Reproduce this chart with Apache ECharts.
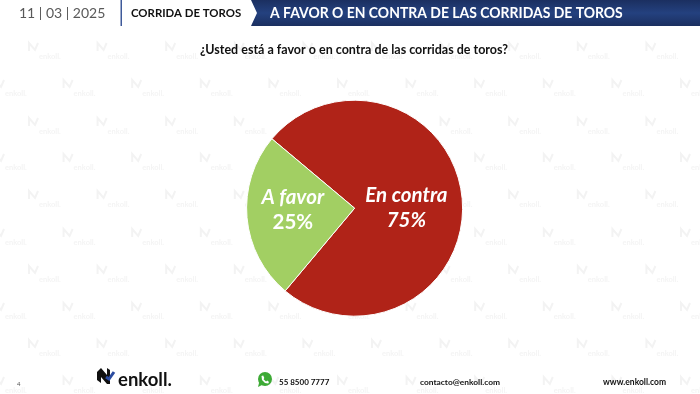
<!DOCTYPE html>
<html>
<head>
<meta charset="utf-8">
<style>
html, body { margin: 0; padding: 0; background: #fff; }
#main { width: 700px; height: 394px; }
</style>
<script src="https://cdn.jsdelivr.net/npm/echarts@6/dist/echarts.min.js"></script>
</head>
<body>
<div id="main"></div>
<script>
var categories = ['En contra', 'A favor'];
var values = [75, 25];
var sliceColors = ['#B02318', '#A2CF63'];
var dateText = '11 | 03 | 2025';
var sectionText = 'CORRIDA DE TOROS';
var bannerText = 'A FAVOR O EN CONTRA DE LAS CORRIDAS DE TOROS';
var questionText = '¿Usted está a favor o en contra de las corridas de toros?';
var pageText = '4';
var phoneText = '55 8500 7777';
var mailText = 'contacto@enkoll.com';
var webText = 'www.enkoll.com';

var FONT = 'Lato, Carlito, "Open Sans", sans-serif';
var myChart = echarts.init(document.getElementById('main'), null, { renderer: 'canvas' });

// marca de agua de fondo, filas alternadas
function watermark() {
    var items = [];
    var rows = [57, 94, 132, 168, 205, 243, 280, 317, 354, 391];
    for (var r = 0; r < rows.length; r++) {
        var startX = r % 2 === 0 ? 39 : 5;
        for (var c = -1; c < 11; c++) {
            var x = startX + c * 68.6;
            var y = rows[r];
            items.push({
                type: 'text', z: -10, silent: true,
                style: { x: x, y: y, text: 'enkoll.', fill: '#f4f4f4', font: 'bold 7.5px ' + FONT, verticalAlign: 'middle' }
            });
            items.push({
                type: 'polyline', z: -10, silent: true,
                shape: { points: [[x - 10, y - 6], [x - 10, y - 14], [x - 4, y - 7], [x - 1, y - 14]] },
                style: { stroke: '#f3f3f3', lineWidth: 2, fill: 'none' }
            });
        }
    }
    return items;
}

var graphics = watermark().concat([
    { type: 'text', style: { x: 19, y: 13, text: dateText, fill: '#595959', font: '14px ' + FONT, verticalAlign: 'middle' } },
    { type: 'rect', shape: { x: 120.5, y: 0, width: 1.5, height: 26 }, style: { fill: '#3F5A9A' } },
    { type: 'text', x: 131, y: 13, scaleX: 0.95, style: { x: 0, y: 0, text: sectionText, fill: '#111', font: 'bold 12px ' + FONT, verticalAlign: 'middle' } },
    {
        type: 'polygon',
        shape: { points: [[251, 0], [700, 0], [700, 26], [251, 26], [257, 13]] },
        style: {
            fill: new echarts.graphic.LinearGradient(0, 0, 0, 1, [
                { offset: 0, color: '#1B2F60' },
                { offset: 0.5, color: '#24417F' },
                { offset: 1, color: '#1B2F60' }
            ])
        }
    },
    {
        type: 'text', x: 270, y: 13, scaleX: 0.9,
        style: {
            x: 0, y: 0, text: bannerText, fill: '#fff', font: 'bold 15.5px ' + FONT, verticalAlign: 'middle',
            shadowBlur: 1, shadowColor: 'rgba(0,0,0,0.8)', shadowOffsetX: 1, shadowOffsetY: 1
        }
    },
    { type: 'text', style: { x: 354, y: 50, text: questionText, fill: '#111', font: 'bold 12.5px ' + FONT, align: 'center', verticalAlign: 'middle' } },
    { type: 'text', style: { x: 17, y: 384, text: pageText, fill: '#555', font: '6px ' + FONT, verticalAlign: 'middle' } },
    { type: 'polygon', shape: { points: [[97, 372], [101, 368], [107, 375], [107, 368], [110, 370], [110, 384], [107, 384], [101, 377], [101, 383], [97, 380]] }, style: { fill: '#111' } },
    { type: 'polyline', shape: { points: [[106, 377], [109, 379], [114, 372]] }, style: { stroke: '#2B4BA0', lineWidth: 3, fill: 'none' } },
    { type: 'text', style: { x: 118, y: 380, text: 'enkoll.', fill: '#111', font: 'bold 18.5px ' + FONT, verticalAlign: 'middle' } },
    { type: 'circle', shape: { cx: 265, cy: 379, r: 7 }, style: { fill: '#3DAA35' } },
    { type: 'polygon', shape: { points: [[258, 387], [259.5, 381], [262, 385]] }, style: { fill: '#3DAA35' } },
    { type: 'polygon', shape: { points: [[261.5, 376], [263.2, 375.5], [264.3, 378], [263.6, 379.2], [266, 381.4], [267.3, 380.6], [269, 382], [268.2, 383.5], [265, 383], [262, 380]] }, style: { fill: '#fff' } },
    { type: 'text', style: { x: 279, y: 382, text: phoneText, fill: '#111', font: 'bold 8px ' + FONT, verticalAlign: 'middle' } },
    { type: 'text', style: { x: 420, y: 382, text: mailText, fill: '#111', font: 'bold 8.4px ' + FONT, verticalAlign: 'middle' } },
    { type: 'text', style: { x: 603, y: 382, text: webText, fill: '#111', font: 'bold 8.5px ' + FONT, verticalAlign: 'middle' } }
]);

var labelOffsets = [[-5, 5], [-5, -3]];
var valueStyles = ['valItalic', 'valUp'];

var option = {
    animation: false,
    backgroundColor: '#fff',
    graphic: { elements: graphics },
    series: [{
        type: 'pie',
        center: [354.6, 208.2],
        radius: [0, 108],
        startAngle: 140,
        clockwise: true,
        avoidLabelOverlap: false,
        labelLine: { show: false },
        data: categories.map(function (name, i) {
            return {
                name: name,
                value: values[i],
                itemStyle: { color: sliceColors[i], borderColor: '#fff', borderWidth: 1 },
                label: {
                    show: true,
                    position: 'inside',
                    offset: labelOffsets[i],
                    formatter: '{name|{b}}\n{' + valueStyles[i] + '|{d}%}',
                    rich: {
                        name: { color: '#fff', fontFamily: FONT, fontSize: 20.5, fontWeight: 'bold', fontStyle: 'italic', lineHeight: 25, align: 'center' },
                        valItalic: { color: '#fff', fontFamily: FONT, fontSize: 20.5, fontWeight: 'bold', fontStyle: 'italic', lineHeight: 25, align: 'center' },
                        valUp: { color: '#fff', fontFamily: FONT, fontSize: 20.5, fontWeight: 'bold', lineHeight: 25, align: 'center' }
                    }
                }
            };
        })
    }]
};
myChart.setOption(option);
</script>
</body>
</html>
